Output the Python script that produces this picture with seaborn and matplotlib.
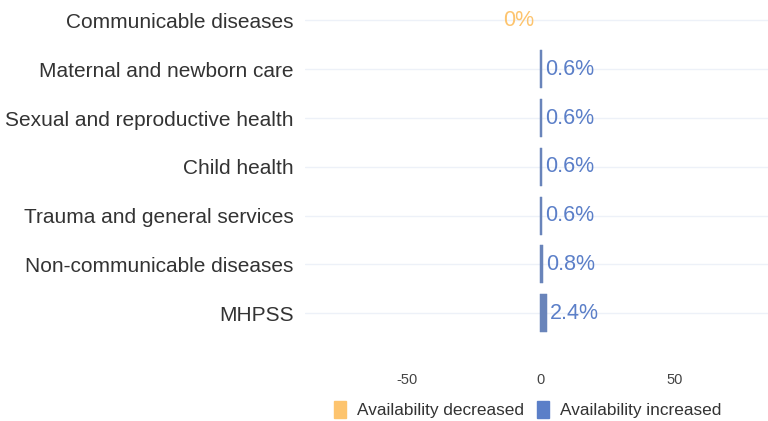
import pandas as pd
import seaborn as sns
import matplotlib.pyplot as plt

# Values
categories = ["Communicable diseases", "Maternal and newborn care", "Sexual and reproductive health",
              "Child health", "Trauma and general services", "Non-communicable diseases", "MHPSS"]
series = ["Availability decreased", "Availability increased", "Availability increased",
          "Availability increased", "Availability increased", "Availability increased", "Availability increased"]
values = [0, 0.6, 0.6, 0.6, 0.6, 0.8, 2.4]
value_labels = ["0%", "0.6%", "0.6%", "0.6%", "0.6%", "0.8%", "2.4%"]

colors = {"Availability decreased": "#FDC46E", "Availability increased": "#5B7FC8"}

df = pd.DataFrame({"Category": categories, "Series": series, "Value": values})
# decreased values drawn to the left of zero
df["Plot"] = [-v if s == "Availability decreased" else v for v, s in zip(df["Value"], df["Series"])]

sns.set_style("white")
plt.rcParams["font.family"] = ["Liberation Sans", "DejaVu Sans"]

fig = plt.figure(figsize=(7.68, 4.21), dpi=100)
ax = fig.add_axes([0.397, 0.14, 0.603, 0.86])

sns.barplot(data=df, y="Category", x="Plot", hue="Series", hue_order=list(colors.keys()),
            palette=colors, dodge=False, width=0.78, ax=ax, legend=False)

# thin bars: outline in their own colour so they stay visible (skip zero bars)
for bar in ax.patches:
    if abs(bar.get_width()) > 0:
        bar.set_edgecolor(bar.get_facecolor())
        bar.set_linewidth(0.35)
    else:
        bar.set_linewidth(0)

for i, row in df.iterrows():
    if row["Series"] == "Availability decreased":
        ax.text(row["Plot"] - 2.2, i, value_labels[i], color=colors[row["Series"]],
                ha="right", va="center", fontsize=15.5)
    else:
        ax.text(row["Plot"] + 1.3, i, value_labels[i], color=colors[row["Series"]],
                ha="left", va="center", fontsize=15.5)

ax.set_xlim(-88, 85)
ax.set_ylim(len(categories) - 1 + 1.0, -0.42)
ax.set_xticks([-50, 0, 50])
ax.set_xticklabels(["-50", "0", "50"], color="#444444", fontsize=10.5)
ax.tick_params(axis="x", length=0, pad=8)
ax.tick_params(axis="y", length=0, pad=8, labelsize=15, labelcolor="#333333")
ax.set_xlabel("")
ax.set_ylabel("")
ax.grid(axis="y", color="#EDF1F8", linewidth=1)
ax.set_axisbelow(True)
sns.despine(ax=ax, left=True, bottom=True)

handles = [plt.Rectangle((0, 0), 1, 1, color=colors[k]) for k in colors]
fig.legend(handles, list(colors.keys()), loc="center", bbox_to_anchor=(0.687, 0.027), ncol=2,
           frameon=False, fontsize=12.4, handlelength=0.7, handleheight=1.1, handletextpad=0.6,
           columnspacing=0.8, labelcolor="#333333")

fig.savefig("out.png", dpi=100)
